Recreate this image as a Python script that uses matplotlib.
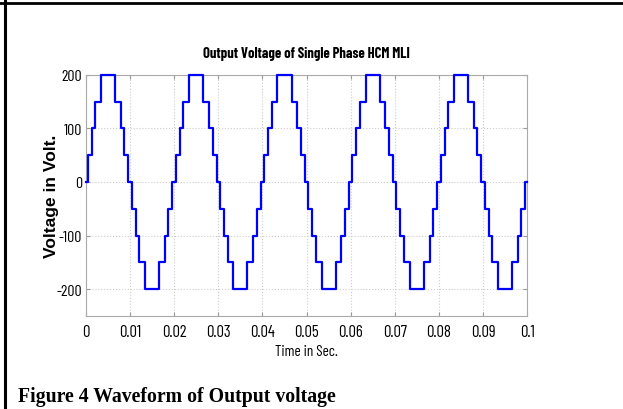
import numpy as np
import matplotlib
matplotlib.use("Agg")
import matplotlib.pyplot as plt
from matplotlib.lines import Line2D

# one 50 Hz period of the 9-level staircase (switching instants)
period = 0.02
n_cycles = 5
step_times = [0, 0.0004, 0.0013, 0.0021, 0.0034, 0.0066, 0.0079, 0.0087, 0.0096,
              0.0104, 0.0113, 0.0121, 0.0134, 0.0166, 0.0179, 0.0187, 0.0196]
step_levels = [0, 50, 100, 150, 200, 150, 100, 50, 0,
               -50, -100, -150, -200, -150, -100, -50, 0]

x_ticks = [0, 0.01, 0.02, 0.03, 0.04, 0.05, 0.06, 0.07, 0.08, 0.09, 0.1]
x_labels = ["0", "0.01", "0.02", "0.03", "0.04", "0.05", "0.06", "0.07", "0.08", "0.09", "0.1"]
y_ticks = [-200, -100, 0, 100, 200]
y_labels = ["-200", "-100", "0", "100", "200"]

title = "Output Voltage of Single Phase HCM MLI"
xlabel = "Time in Sec."
ylabel = "Voltage in Volt."
caption = "Figure 4 Waveform of Output voltage"


def main():
    t = np.concatenate([np.array(step_times) + k * period for k in range(n_cycles)] + [[0.1]])
    v = np.concatenate([step_levels] * n_cycles + [[0]])

    narrow = ["Barlow Condensed", "Archivo Narrow", "DejaVu Sans"]

    fig = plt.figure(figsize=(6.23, 4.10), dpi=100)
    ax = fig.add_axes([0.138, 0.227, 0.708, 0.588])

    ax.step(t, v, where="post", color="#0000ff", linewidth=1.6, clip_on=False, zorder=3)

    ax.set_xlim(0, 0.1)
    ax.set_ylim(-250, 200)
    ax.set_xticks(x_ticks)
    ax.set_xticklabels(x_labels, family=narrow, fontsize=12)
    ax.set_yticks(y_ticks)
    ax.set_yticklabels(y_labels, family=narrow, fontsize=11.5)
    ax.tick_params(direction="in", length=3, color="#999999", top=True, right=True)
    ax.tick_params(axis="x", pad=6)
    ax.tick_params(axis="y", pad=3)
    ax.grid(True, linestyle=":", color="#cccccc", linewidth=0.8)
    for s in ax.spines.values():
        s.set_color("#aaaaaa")

    ax.set_title(title, family=narrow, fontsize=10.5, fontweight="bold", pad=13)
    ax.set_xlabel(xlabel, family=narrow, fontsize=11)
    ax.xaxis.set_label_coords(0.5, -0.115)
    ax.set_ylabel(ylabel, family=["Liberation Sans", "DejaVu Sans"], fontsize=12.5,
                  fontweight="bold")
    ax.yaxis.set_label_coords(-0.062, 0.5)

    fig.text(0.029, 0.02, caption, family=["Liberation Serif", "DejaVu Serif"],
             fontsize=14.2, fontweight="bold")

    # table cell borders
    fig.add_artist(Line2D([0, 1], [0.99, 0.99], transform=fig.transFigure, color="black", linewidth=2))
    fig.add_artist(Line2D([0.008, 0.008], [0, 1], transform=fig.transFigure, color="black", linewidth=2.2))

    fig.savefig("out.png", dpi=100)


if __name__ == '__main__':
    main()
